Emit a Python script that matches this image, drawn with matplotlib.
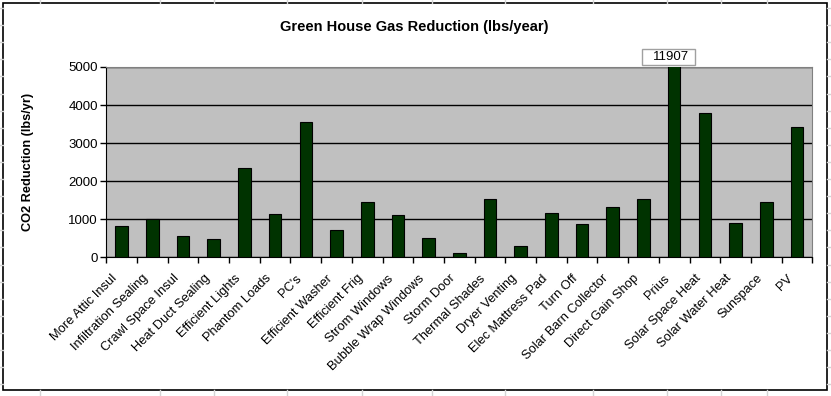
import matplotlib.pyplot as plt
from matplotlib.lines import Line2D
from matplotlib.patches import Rectangle
import matplotlib.transforms as mtransforms
import numpy as np

plt.rcParams['font.family'] = ['Liberation Sans', 'DejaVu Sans']

# Kategorier och värden (lbs/year)
measures = ["More Attic Insul", "Infiltration Sealing", "Crawl Space Insul",
            "Heat Duct Sealing", "Efficient Lights", "Phantom Loads", "PC's",
            "Efficient Washer", "Efficient Frig", "Strom Windows",
            "Bubble Wrap Windows", "Storm Door", "Thermal Shades",
            "Dryer Venting", "Elec Mattress Pad", "Turn Off",
            "Solar Barn Collector", "Direct Gain Shop", "Prius",
            "Solar Space Heat", "Solar Water Heat", "Sunspace", "PV"]
co2 = [815, 1000, 552, 473, 2338, 1130, 3546, 718, 1445, 1103,
       499, 105, 1524, 289, 1156, 867, 1313, 1524, 11907,
       3783, 893, 1445, 3415]
y_ticks = [0, 1000, 2000, 3000, 4000, 5000]

W, H = 831, 396
fig = plt.figure(figsize=(W / 100, H / 100), dpi=100)
fig.patch.set_facecolor("white")

# Kalkylbladets rutnät runt diagrammet
grid_col = "#d4d4d4"
col_x = [40, 160, 214, 287, 362, 432, 505, 593, 667, 721, 767]
for cx in col_x:
    fig.add_artist(Line2D([cx / W, cx / W], [1, 1 - 3 / H], color=grid_col, lw=1))
    fig.add_artist(Line2D([cx / W, cx / W], [0, 6 / H], color=grid_col, lw=1))
for ry in np.arange(8, 396, 17.1):
    fig.add_artist(Line2D([0, 3 / W], [1 - ry / H, 1 - ry / H], color=grid_col, lw=1))
    fig.add_artist(Line2D([827 / W, 1], [1 - ry / H, 1 - ry / H], color=grid_col, lw=1))

# Ram runt diagramobjektet
fig.add_artist(Rectangle((3 / W, 1 - 390 / H), 824 / W, 387 / H, fill=False,
                         edgecolor="black", lw=1.2, transform=fig.transFigure))

ax = fig.add_axes([106.3 / W, 1 - 257.3 / H, 706 / W, 190.3 / H])
ax.set_facecolor("#c0c0c0")

x = np.arange(len(measures))
ax.bar(x, co2, width=0.41, color="#003300", edgecolor="black", linewidth=0.8,
       zorder=3)

ax.set_xlim(-0.5, len(measures) - 0.5)
ax.set_ylim(0, 5000)
ax.set_yticks(y_ticks)
ax.set_yticklabels([str(v) for v in y_ticks], fontsize=9.5)
ax.yaxis.grid(True, color="black", lw=1, zorder=1)
ax.set_axisbelow(True)

ax.set_xticks(x)
ax.set_xticklabels(measures, rotation=45, ha="right", va="center",
                   rotation_mode="anchor", fontsize=9.3)
ax.tick_params(axis="x", which="major", length=0, pad=14)
ax.set_xticks(np.arange(-0.5, len(measures), 1), minor=True)
ax.tick_params(axis="x", which="minor", length=4, width=1, direction="out")
ax.tick_params(axis="y", length=4, width=1, direction="out", pad=2)

# flytta kategorietiketterna lite åt vänster
shift = mtransforms.ScaledTranslation(-6 / 100, 0, fig.dpi_scale_trans)
for lbl in ax.get_xticklabels():
    lbl.set_transform(lbl.get_transform() + shift)

for side in ["top", "right"]:
    ax.spines[side].set_color("#808080")
for side in ["left", "bottom"]:
    ax.spines[side].set_color("black")

ax.set_ylabel("CO2 Reduction (lbs/yr)", fontsize=9.2, fontweight="bold")
ax.yaxis.set_label_coords(-0.1017, 0.503)

# Etikett för stapeln som går utanför skalan
prius = measures.index("Prius")
blend = mtransforms.blended_transform_factory(ax.transData, ax.transAxes)
ax.add_patch(Rectangle((prius - 1.05, 1.01), 1.73, 0.084, transform=blend,
                       facecolor="white", edgecolor="#a0a0a0", lw=1,
                       clip_on=False, zorder=5))
ax.text(prius + 0.5, 1.052, str(co2[prius]), transform=blend, ha="right",
        va="center", fontsize=9.5, zorder=6)

fig.text(0.498, 1 - 27 / H, "Green House Gas Reduction (lbs/year)",
         ha="center", va="center", fontsize=10.5, fontweight="bold")

fig.savefig("out.png", dpi=100)
